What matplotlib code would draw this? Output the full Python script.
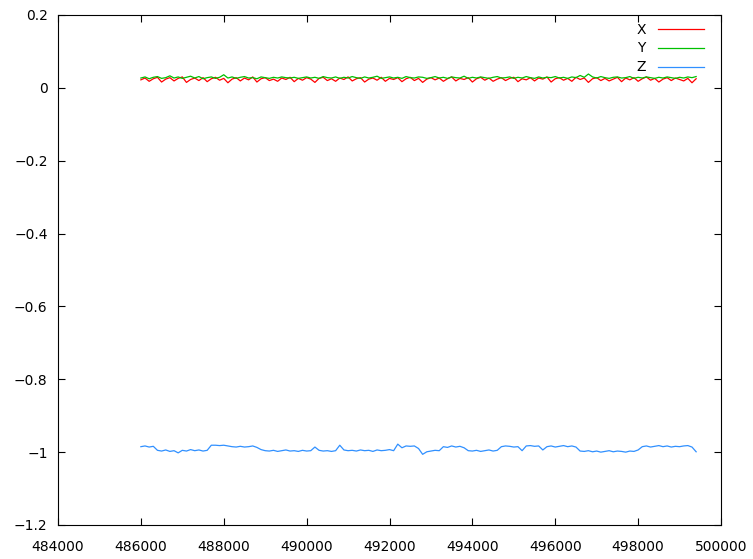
import numpy as np
import matplotlib.pyplot as plt

# sample positions (one reading every 100 units)
t_start = 486000
t_step = 100

x_vals = [
    0.022, 0.027, 0.018, 0.025, 0.029, 0.016, 0.024, 0.028, 0.019, 0.026,
    0.030, 0.015, 0.023, 0.027, 0.020, 0.028, 0.017, 0.025, 0.029, 0.021,
    0.026, 0.014, 0.024, 0.028, 0.019, 0.027, 0.022, 0.030, 0.016, 0.025,
    0.028, 0.020, 0.024, 0.018, 0.027, 0.023, 0.029, 0.017, 0.026, 0.021,
    0.028, 0.024, 0.015, 0.026, 0.029, 0.020, 0.025, 0.018, 0.027, 0.023,
    0.030, 0.019, 0.025, 0.028, 0.016, 0.024, 0.027, 0.021, 0.029, 0.018,
    0.026, 0.023, 0.028, 0.017, 0.025, 0.029, 0.020, 0.026, 0.015, 0.024,
    0.028, 0.022, 0.027, 0.018, 0.025, 0.030, 0.019, 0.026, 0.023, 0.028,
    0.016, 0.025, 0.029, 0.021, 0.027, 0.018, 0.024, 0.028, 0.020, 0.026,
    0.029, 0.017, 0.025, 0.022, 0.028, 0.019, 0.027, 0.024, 0.030, 0.016,
    0.025, 0.028, 0.021, 0.026, 0.018, 0.029, 0.023, 0.027, 0.015, 0.025,
    0.028, 0.020, 0.026, 0.019, 0.024, 0.029, 0.017, 0.027, 0.022, 0.028,
    0.018, 0.025, 0.030, 0.021, 0.026, 0.016, 0.024, 0.028, 0.020, 0.027,
    0.023, 0.019, 0.026, 0.014, 0.025,
]

y_vals = [
    0.027, 0.030, 0.025, 0.029, 0.031, 0.026, 0.028, 0.033, 0.027, 0.030,
    0.026, 0.029, 0.032, 0.027, 0.031, 0.025, 0.028, 0.030, 0.026, 0.029,
    0.036, 0.027, 0.030, 0.026, 0.029, 0.031, 0.027, 0.028, 0.025, 0.030,
    0.028, 0.026, 0.029, 0.027, 0.030, 0.028, 0.027, 0.029, 0.026, 0.028,
    0.030, 0.027, 0.029, 0.026, 0.031, 0.028, 0.027, 0.030, 0.026, 0.029,
    0.027, 0.031, 0.028, 0.026, 0.030, 0.027, 0.029, 0.032, 0.026, 0.028,
    0.030, 0.027, 0.029, 0.026, 0.031, 0.028, 0.027, 0.030, 0.029, 0.026,
    0.028, 0.031, 0.027, 0.029, 0.026, 0.030, 0.028, 0.027, 0.032, 0.026,
    0.029, 0.027, 0.030, 0.028, 0.026, 0.029, 0.031, 0.027, 0.028, 0.030,
    0.026, 0.029, 0.027, 0.031, 0.028, 0.026, 0.030, 0.027, 0.029, 0.028,
    0.031, 0.027, 0.029, 0.026, 0.030, 0.028, 0.034, 0.029, 0.038, 0.030,
    0.027, 0.031, 0.028, 0.026, 0.029, 0.030, 0.027, 0.028, 0.031, 0.026,
    0.029, 0.027, 0.030, 0.028, 0.026, 0.029, 0.027, 0.030, 0.028, 0.026,
    0.029, 0.027, 0.030, 0.028, 0.031,
]

z_vals = [
    -0.985, -0.983, -0.986, -0.984,
    -0.995, -0.997, -0.994, -0.998, -0.996, -1.002, -0.995, -0.997, -0.993, -0.996, -0.994, -0.997, -0.995,
    -0.981, -0.981, -0.982, -0.981, -0.983,
    -0.985, -0.986, -0.984, -0.986, -0.985, -0.983, -0.987,
    -0.993, -0.996, -0.997, -0.995, -0.998, -0.996, -0.994, -0.997, -0.996, -0.998, -0.995, -0.997, -0.996,
    -0.986,
    -0.995, -0.997, -0.996, -0.998, -0.996,
    -0.981,
    -0.994, -0.996, -0.995, -0.997, -0.994, -0.996, -0.995, -0.998, -0.994, -0.996, -0.995, -0.993, -0.996,
    -0.978,
    -0.988, -0.983, -0.984, -0.983,
    -0.990, -1.006, -0.999,
    -0.997, -0.995, -0.996,
    -0.985, -0.987, -0.983, -0.986, -0.984, -0.988,
    -0.996, -0.997, -0.995, -0.998, -0.996, -0.994, -0.997, -0.995,
    -0.985, -0.983, -0.984, -0.986, -0.985,
    -0.996,
    -0.983, -0.982, -0.984, -0.983,
    -0.994,
    -0.985, -0.983, -0.986, -0.984, -0.982, -0.985, -0.983, -0.986,
    -0.997, -0.998, -0.996, -0.999, -0.997, -1.000, -0.998, -0.996, -0.999, -0.997, -0.998, -1.000, -0.997, -0.998, -0.994,
    -0.985, -0.983, -0.986, -0.984, -0.982, -0.985, -0.983, -0.986, -0.984, -0.985, -0.983, -0.982, -0.986,
    -0.999,
]

y_ticks = [-1.2, -1, -0.8, -0.6, -0.4, -0.2, 0, 0.2]
y_tick_labels = ["\u22121.2", "\u22121", "\u22120.8", "\u22120.6", "\u22120.4", "\u22120.2", "0", "0.2"]

t = t_start + t_step * np.arange(len(z_vals))

fig = plt.figure(figsize=(7.53, 5.59), dpi=100)
ax = fig.add_axes([58 / 753, 1 - 525 / 559, 663 / 753, 510 / 559])

ax.plot(t, x_vals, color="#ff0000", lw=0.9, label="X")
ax.plot(t, y_vals, color="#00c000", lw=0.9, label="Y")
ax.plot(t, z_vals, color="#3090ff", lw=0.9, label="Z")

ax.set_xlim(484000, 500000)
ax.set_ylim(-1.2, 0.2)
ax.set_xticks(np.arange(484000, 500001, 2000))
ax.set_yticks(y_ticks)
ax.set_yticklabels(y_tick_labels)
ax.tick_params(direction="in", top=True, right=True, length=5, labelsize=10)
ax.tick_params(axis="x", pad=11)
ax.tick_params(axis="y", pad=7.5)

leg = ax.legend(loc="upper right", bbox_to_anchor=(0.986, 1.0), frameon=False,
                markerfirst=False, handlelength=3.3, fontsize=10,
                labelspacing=0.35, borderaxespad=0.15, handletextpad=0.9)

plt.savefig("out.png", dpi=100)
